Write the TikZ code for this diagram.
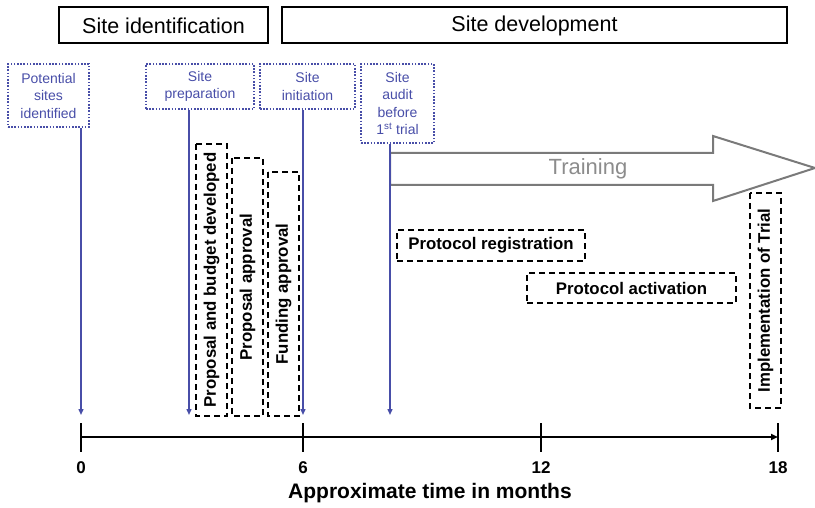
\documentclass[tikz,border=0pt]{standalone}
\usepackage{fontspec}
\setmainfont{Liberation Sans}
\usetikzlibrary{arrows.meta}
\definecolor{milestone}{RGB}{72,78,168}
\definecolor{traingray}{RGB}{122,122,122}
\definecolor{traintext}{RGB}{140,140,140}
\tikzset{
  x=1pt, y=-1pt,
  phasebox/.style={draw=black, line width=2pt, inner sep=0pt,
    font=\fontsize{21.5}{24}\selectfont},
  milebox/.style={draw=milestone, line width=1.6pt, dash pattern=on 1.6pt off 1.6pt,
    text=milestone, inner sep=0pt, align=center,
    font=\fontsize{14}{17.5}\selectfont},
  mileline/.style={draw=milestone, line width=1.4pt, -{Triangle[length=6pt,width=5pt]}},
  taskbox/.style={draw=black, line width=1.8pt, dash pattern=on 6pt off 4pt,
    inner sep=0pt, font=\bfseries\fontsize{16.8}{19}\selectfont},
  vtask/.style={taskbox, rotate=90},
  axisline/.style={line width=2.9pt, -{Triangle[length=7pt,width=6pt]}},
  tickmark/.style={line width=2.9pt},
  ticklabel/.style={font=\bfseries\fontsize{17}{19}\selectfont},
}
\begin{document}
\begin{tikzpicture}
\useasboundingbox (0,0) rectangle (815,508);

% phase headers
\node[phasebox, minimum width=209pt, minimum height=36pt] (sid) at (163.5,25.5) {Site identification};
\node[phasebox, minimum width=505pt, minimum height=36pt] (sdev) at (534.5,25.5) {Site development};

% milestone boxes
\node[milebox, minimum width=81pt, minimum height=63pt] (pot) at (48.5,95.5) {Potential\\sites\\identified};
\node[milebox, minimum width=108pt, minimum height=45pt] (prep) at (200,86.5) {Site\\preparation};
\node[milebox, minimum width=95pt, minimum height=45pt] (init) at (307.5,86.5) {Site\\initiation};
\node[milebox, minimum width=73pt, minimum height=79pt] (audit) at (397.5,103.5) {Site\\audit\\before\\1\textsuperscript{st} trial};

% time axis ticks
\coordinate (t0) at (81,437);
\coordinate (t6) at (303,437);
\coordinate (t12) at (541,437);
\coordinate (t18) at (778,437);

% milestone arrow ends
\coordinate (a0) at (81,415);
\coordinate (a3) at (189,415);
\coordinate (a6) at (303,415);
\coordinate (a8) at (390,415);

% training arrow
\draw[traingray, line width=2pt, line join=miter]
  (390,153) -- (713,153) -- (713,136) -- (815,168) -- (713,201) -- (713,185) -- (390,185) -- cycle;
\node[text=traintext, font=\fontsize{22}{24}\selectfont] (train) at (588,169) {Training};

% milestone arrows
\draw[mileline] (pot.south -| a0) -- (a0);
\draw[mileline] (prep.south -| a3) -- (a3);
\draw[mileline] (init.south -| a6) -- (a6);
\draw[mileline] (audit.south -| a8) -- (a8);

% tasks
\node[vtask, minimum width=272pt, minimum height=31pt] (budget) at (211.5,280) {Proposal and budget developed};
\node[vtask, minimum width=258pt, minimum height=31pt] (papp) at (247.5,287) {Proposal approval};
\node[vtask, minimum width=244pt, minimum height=31pt] (fapp) at (283.5,294) {Funding approval};
\node[taskbox, minimum width=188pt, minimum height=31pt] (preg) at (491,245.5) {Protocol registration};
\node[taskbox, minimum width=209pt, minimum height=30pt] (pact) at (631.5,288) {Protocol activation};
\node[vtask, minimum width=215pt, minimum height=31pt] (impl) at (765.5,300.5) {Implementation of Trial};

% time axis
\draw[axisline] (t0) -- (t18);
\foreach \t in {t0,t6,t12,t18}
  \draw[tickmark] ([yshift=14pt]\t) -- ([yshift=-15pt]\t);
\node[ticklabel] (l0) at (81,468) {0};
\node[ticklabel] (l6) at (303,468) {6};
\node[ticklabel] (l12) at (541,468) {12};
\node[ticklabel] (l18) at (778,468) {18};
\node[font=\bfseries\fontsize{21}{23}\selectfont] (xlabel) at (430,493) {Approximate time in months};
\end{tikzpicture}
\end{document}
